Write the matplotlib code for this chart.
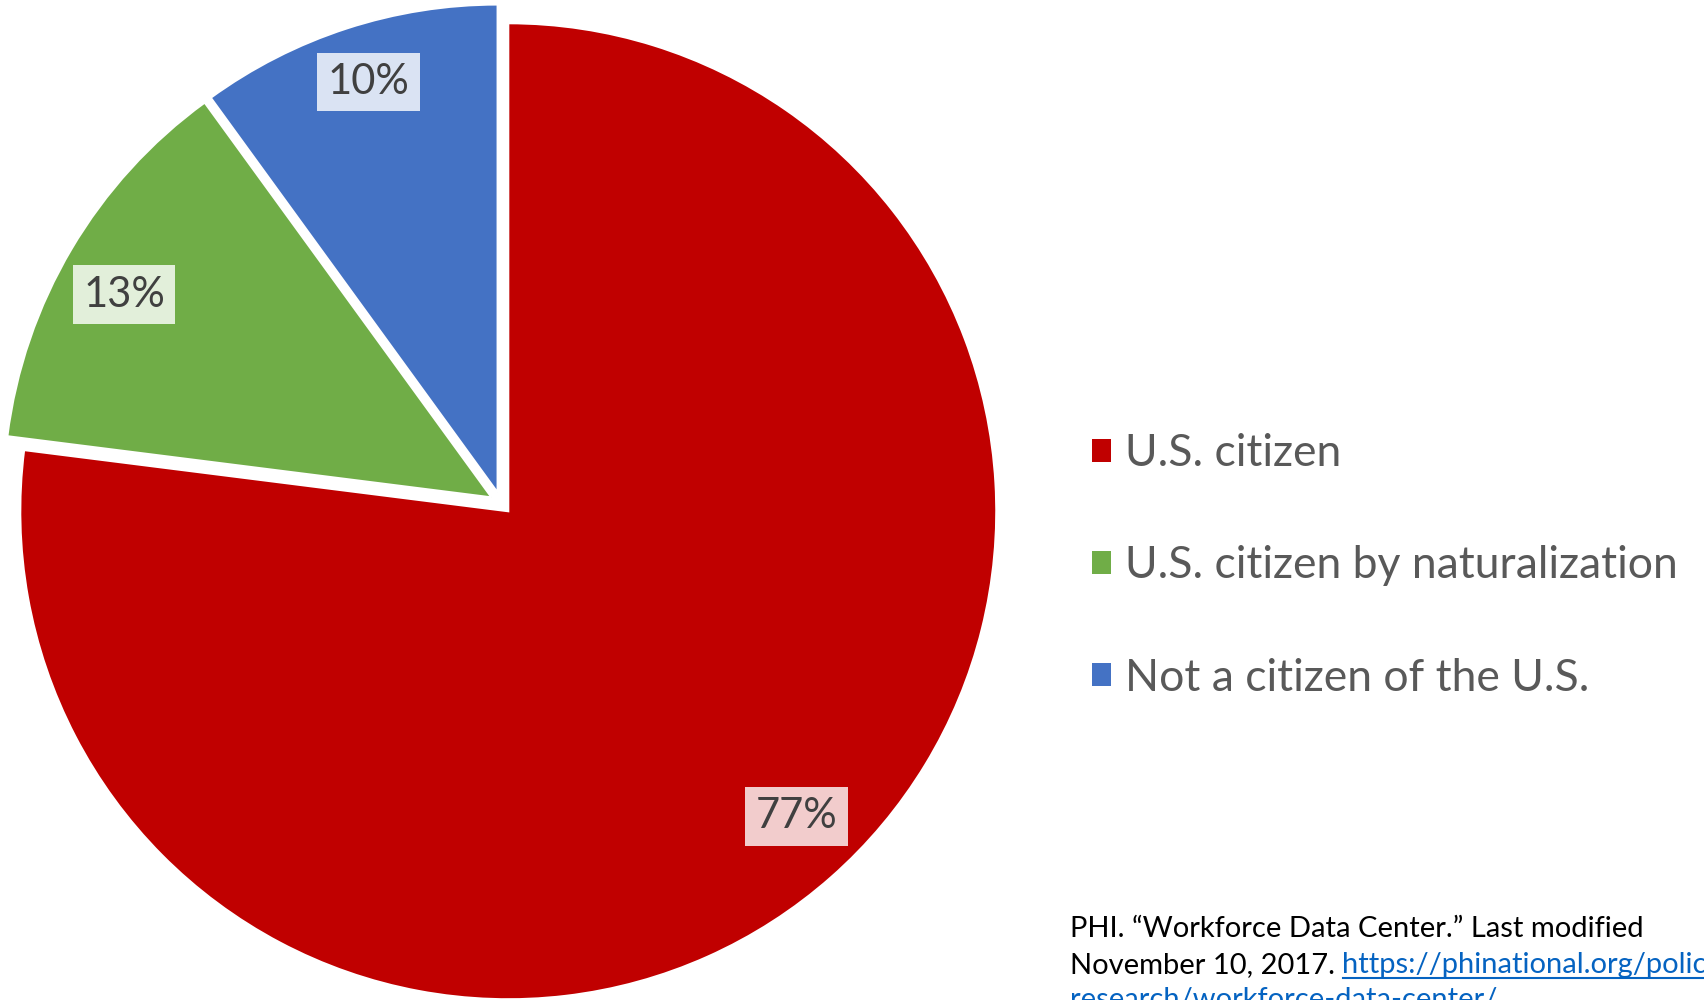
import matplotlib
matplotlib.use('Agg')
import numpy as np
import matplotlib.pyplot as plt
from matplotlib.patches import Patch
from matplotlib.lines import Line2D

categories = ['U.S. citizen', 'U.S. citizen by naturalization', 'Not a citizen of the U.S.']
shares = [77, 13, 10]
colors = ['#C00000', '#70AD47', '#4472C4']
label_fills = ['#F2CCCC', '#E2EFDA', '#DAE3F3']

source_1 = 'PHI. \u201cWorkforce Data Center.\u201d Last modified'
source_2 = 'November 10, 2017. '
source_link_1 = 'https://phinational.org/policy-'
source_link_2 = 'research/workforce-data-center/'

plt.rcParams['font.family'] = ['Lato', 'DejaVu Sans']

W, H = 1704, 1000
fig = plt.figure(figsize=(W / 100, H / 100), dpi=100)
ax = fig.add_axes([0, 0, 1, 1])

# pie starts at 12 o'clock and runs clockwise, every slice pulled out a little
wedges, texts, pcts = ax.pie(shares, colors=colors, startangle=90, counterclock=False,
                             center=(501, 497), radius=488, explode=[11] * 3,
                             autopct='%.0f%%', pctdistance=0.865,
                             wedgeprops=dict(edgecolor='white', linewidth=1.5),
                             textprops=dict(color='#404040', fontsize=30))

# nudge the value labels a bit along each slice (radius fraction, degrees)
label_dist = [0.86, 0.86, 0.882]
label_turn = [2.0, 1.7, -0.5]
for w, t, fill, d, turn in zip(wedges, pcts, label_fills, label_dist, label_turn):
    mid = np.deg2rad((w.theta1 + w.theta2) / 2 + turn)
    cx, cy = w.center
    t.set_position((cx + d * w.r * np.cos(mid), cy + d * w.r * np.sin(mid)))
    t.set_bbox(dict(boxstyle='square,pad=0.25', facecolor=fill, edgecolor='none'))

ax.set_xlim(0, W)
ax.set_ylim(0, H)
ax.set_aspect('equal')
ax.axis('off')

handles = [Patch(facecolor=c) for c in colors]
ax.legend(handles, categories, loc='center left',
          bbox_to_anchor=(1092 / W, 1 - 566 / H), bbox_transform=fig.transFigure,
          frameon=False, fontsize=32, labelcolor='#595959',
          handlelength=0.43, handleheight=0.43, handletextpad=0.32,
          labelspacing=1.6, borderpad=0, borderaxespad=0)

# source note, bottom right
x0 = 1070 / W
fs = 21
fig.text(x0, 1 - 937 / H, source_1, fontsize=fs, color='black', va='baseline')
t2 = fig.text(x0, 1 - 973 / H, source_2, fontsize=fs, color='black', va='baseline')
fig.canvas.draw()
r = fig.canvas.get_renderer()
bb = t2.get_window_extent(r)
xl = bb.x1 / W
link1 = fig.text(xl, 1 - 973 / H, source_link_1, fontsize=fs, color='#0563C1', va='baseline')
link2 = fig.text(x0, 1 - 1008 / H, source_link_2, fontsize=fs, color='#0563C1', va='baseline')
fig.canvas.draw()
for lt, base in [(link1, 973), (link2, 1008)]:
    e = lt.get_window_extent(r)
    uy = 1 - (base + 5) / H
    fig.add_artist(Line2D([e.x0 / W, e.x1 / W], [uy, uy], color='#0563C1', linewidth=1.5))

fig.savefig('out.png', dpi=100)
